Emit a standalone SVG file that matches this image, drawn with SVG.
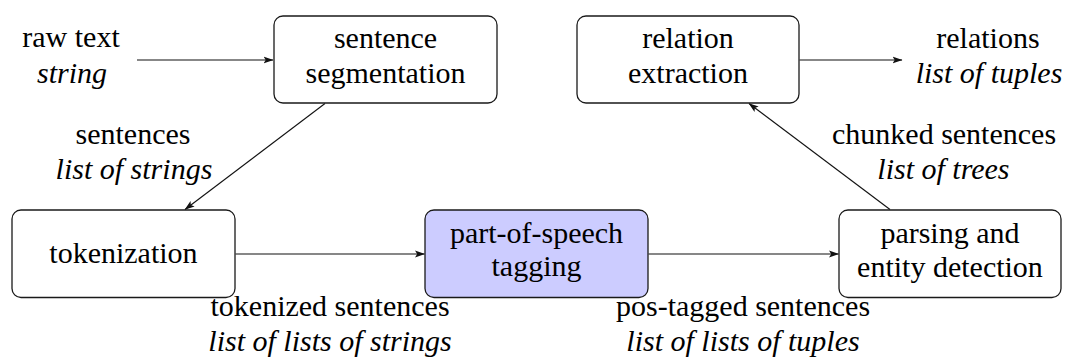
<svg xmlns="http://www.w3.org/2000/svg" width="1069" height="362" viewBox="0 0 1069 362">
<defs>
  <marker id="arr" viewBox="0 0 10 8" refX="9.5" refY="4" markerWidth="10" markerHeight="8" markerUnits="userSpaceOnUse" orient="auto">
    <path d="M0,0.6 L10,4 L0,7.4 L2.2,4 z" fill="#111"/>
  </marker>
</defs>

<g id="connectors" stroke="#111" stroke-width="1.1" fill="none" marker-end="url(#arr)">
  <line x1="137" y1="60" x2="273" y2="60"/>
  <line x1="325" y1="103.5" x2="185" y2="209.5"/>
  <line x1="235.5" y1="254" x2="424.5" y2="254"/>
  <line x1="648.5" y1="254" x2="838.5" y2="254"/>
  <line x1="890" y1="209.5" x2="749" y2="103.5"/>
  <line x1="799.5" y1="60" x2="902" y2="60"/>
</g>

<g id="raw-text">
  <text font-family="Liberation Serif" font-size="30" x="22.3" y="47">raw text</text>
  <text font-family="Liberation Serif" font-size="30" font-style="italic" x="37" y="83">string</text>
</g>

<g id="sentence-segmentation">
  <rect x="274" y="16" width="223" height="87" rx="9" fill="#ffffff" stroke="#1a1a1a" stroke-width="1.3"/>
  <text font-family="Liberation Serif" font-size="30" x="333.9" y="48">sentence</text>
  <text font-family="Liberation Serif" font-size="30" x="305.5" y="83">segmentation</text>
</g>

<g id="relation-extraction">
  <rect x="577" y="16" width="222" height="87" rx="9" fill="#ffffff" stroke="#1a1a1a" stroke-width="1.3"/>
  <text font-family="Liberation Serif" font-size="30" x="642.2" y="48">relation</text>
  <text font-family="Liberation Serif" font-size="30" x="628" y="83">extraction</text>
</g>

<g id="relations">
  <text font-family="Liberation Serif" font-size="30" x="936.3" y="48">relations</text>
  <text font-family="Liberation Serif" font-size="30" font-style="italic" x="915.7" y="83">list of tuples</text>
</g>

<g id="sentences-label">
  <text font-family="Liberation Serif" font-size="30" x="75.5" y="144">sentences</text>
  <text font-family="Liberation Serif" font-size="30" font-style="italic" x="55.6" y="179">list of strings</text>
</g>

<g id="chunked-label">
  <text font-family="Liberation Serif" font-size="30" x="832" y="144">chunked sentences</text>
  <text font-family="Liberation Serif" font-size="30" font-style="italic" x="877.3" y="179">list of trees</text>
</g>

<g id="tokenization">
  <rect x="12" y="210" width="223" height="87.5" rx="9" fill="#ffffff" stroke="#1a1a1a" stroke-width="1.3"/>
  <text font-family="Liberation Serif" font-size="30" x="49.3" y="263">tokenization</text>
</g>

<g id="pos-tagging">
  <rect x="425" y="210" width="223" height="87.5" rx="9" fill="#ccccff" stroke="#1a1a1a" stroke-width="1.3"/>
  <text font-family="Liberation Serif" font-size="30" x="449.9" y="243">part-of-speech</text>
  <text font-family="Liberation Serif" font-size="30" x="491.5" y="276">tagging</text>
</g>

<g id="parsing">
  <rect x="839" y="210" width="222" height="87.5" rx="9" fill="#ffffff" stroke="#1a1a1a" stroke-width="1.3"/>
  <text font-family="Liberation Serif" font-size="30" x="880.4" y="243">parsing and</text>
  <text font-family="Liberation Serif" font-size="30" x="857.1" y="277">entity detection</text>
</g>

<g id="tokenized-label">
  <text font-family="Liberation Serif" font-size="30" x="210.5" y="316">tokenized sentences</text>
  <text font-family="Liberation Serif" font-size="30" font-style="italic" x="208.3" y="351">list of lists of strings</text>
</g>

<g id="postagged-label">
  <text font-family="Liberation Serif" font-size="30" x="616" y="316">pos-tagged sentences</text>
  <text font-family="Liberation Serif" font-size="30" font-style="italic" x="626.3" y="351">list of lists of tuples</text>
</g>
</svg>
